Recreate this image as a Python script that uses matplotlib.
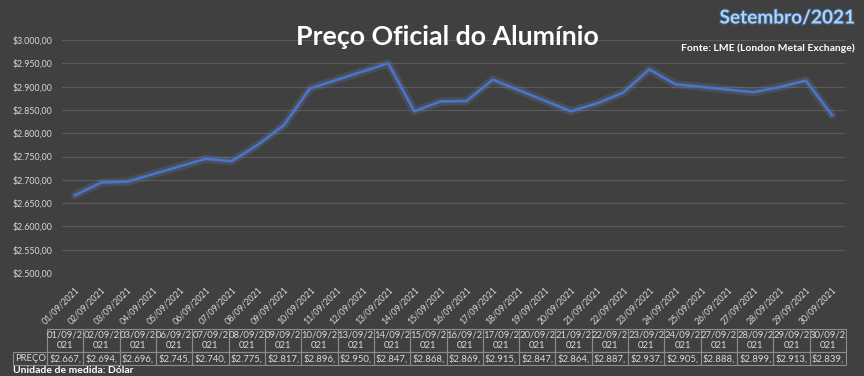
import datetime as dt
import matplotlib
matplotlib.use("Agg")
from matplotlib import pyplot as plt
import matplotlib.dates as mdates
import matplotlib.patheffects as pe
from matplotlib.ticker import FuncFormatter, MultipleLocator

# trading days and LME official price (USD/t)
dias = ['01/09/2021', '02/09/2021', '03/09/2021', '06/09/2021', '07/09/2021', '08/09/2021',
        '09/09/2021', '10/09/2021', '13/09/2021', '14/09/2021', '15/09/2021', '16/09/2021',
        '17/09/2021', '20/09/2021', '21/09/2021', '22/09/2021', '23/09/2021', '24/09/2021',
        '27/09/2021', '28/09/2021', '29/09/2021', '30/09/2021']
precos = [2667, 2694, 2696, 2745, 2740, 2775, 2817, 2896, 2950, 2847, 2868, 2869,
          2915, 2847, 2864, 2887, 2937, 2905, 2888, 2899, 2913, 2839]

titulo = 'Preço Oficial do Alumínio'
periodo = 'Setembro/2021'
fonte = 'Fonte: LME (London Metal Exchange)'
unidade = 'Unidade de medida: Dólar'
rotulo = 'PREÇO'

BG = '#404040'
TXT = '#d9d9d9'
plt.rcParams['font.family'] = ['Lato', 'DejaVu Sans']

W, H = 864, 376


def money(v, pos=None):
    s = f"{v:,.2f}".replace(',', 'X').replace('.', ',').replace('X', '.')
    return '$' + s


datas = [dt.datetime.strptime(d, '%d/%m/%Y') for d in dias]

fig = plt.figure(figsize=(W / 100, H / 100), dpi=100, facecolor=BG)
ax = fig.add_axes([62 / W, 1 - 273 / H, (845 - 62) / W, (273 - 40) / H], facecolor=BG)

ax.plot(datas, precos, color='#8fb4ff', lw=6, alpha=0.12, solid_capstyle='round')
ax.plot(datas, precos, color='#4a74cc', lw=1.9, solid_joinstyle='miter')

ax.set_ylim(2500, 3000)
ax.yaxis.set_major_locator(MultipleLocator(50))
ax.yaxis.set_major_formatter(FuncFormatter(money))
ax.set_xlim(dt.datetime(2021, 8, 31, 12), dt.datetime(2021, 9, 30, 12))
ax.xaxis.set_major_locator(mdates.DayLocator())
ax.xaxis.set_major_formatter(mdates.DateFormatter('%d/%m/%Y'))
ax.grid(axis='y', color='#5a5a5a', lw=0.8)
ax.set_axisbelow(True)
for s in ax.spines.values():
    s.set_visible(False)
ax.tick_params(axis='both', length=0, colors=TXT, labelsize=6.3)
ax.tick_params(axis='y', pad=7)
ax.tick_params(axis='x', pad=9)
for lab in ax.get_xticklabels():
    lab.set_rotation(45)
    lab.set_ha('right')
    lab.set_va('top')
    lab.set_rotation_mode('anchor')

fig.text(447 / W, 1 - 37 / H, titulo, color='white', fontsize=19.3, fontweight='bold',
         ha='center', va='center')
fig.text(855 / W, 1 - 18 / H, periodo, color='#aed3f7', fontsize=13.7, fontweight='bold',
         ha='right', va='center',
         path_effects=[pe.withStroke(linewidth=1.5, foreground='#3d5f85')])
fig.text(855 / W, 1 - 48 / H, fonte, color='white', fontsize=7.5, fontweight='bold',
         ha='right', va='center')
fig.text(13 / W, 1 - 366 / H, unidade, color='white', fontsize=7.5, fontweight='bold',
         ha='left', va='top')

# data table under the chart
tab_ax = fig.add_axes([13 / W, 1 - 365 / H, (846 - 13) / W, (365 - 329) / H])
tab_ax.axis('off')
cab = [''] + [d[:7] + '\n' + d[7:] for d in dias]
vals = [rotulo] + [money(p)[:-3] + ',' for p in precos]
tbl = tab_ax.table(cellText=[vals], colLabels=cab, cellLoc='center', bbox=[0, 0, 1, 1])
tbl.auto_set_font_size(False)
for (r, c), cell in tbl.get_celld().items():
    cell.set_facecolor('none')
    cell.set_edgecolor('#8c8c8c')
    cell.set_linewidth(0.8)
    cell.get_text().set_color(TXT)
    cell.get_text().set_fontsize(6.8)
    cell.set_width(34 if c == 0 else 36.3)
    cell.set_height(23.5 if r == 0 else 13)
    if c == 0:
        cell.get_text().set_ha('left')
        cell.PAD = 0.06
        if r == 0:
            cell.visible_edges = 'open'

fig.savefig('out.png', dpi=100, facecolor=BG)
